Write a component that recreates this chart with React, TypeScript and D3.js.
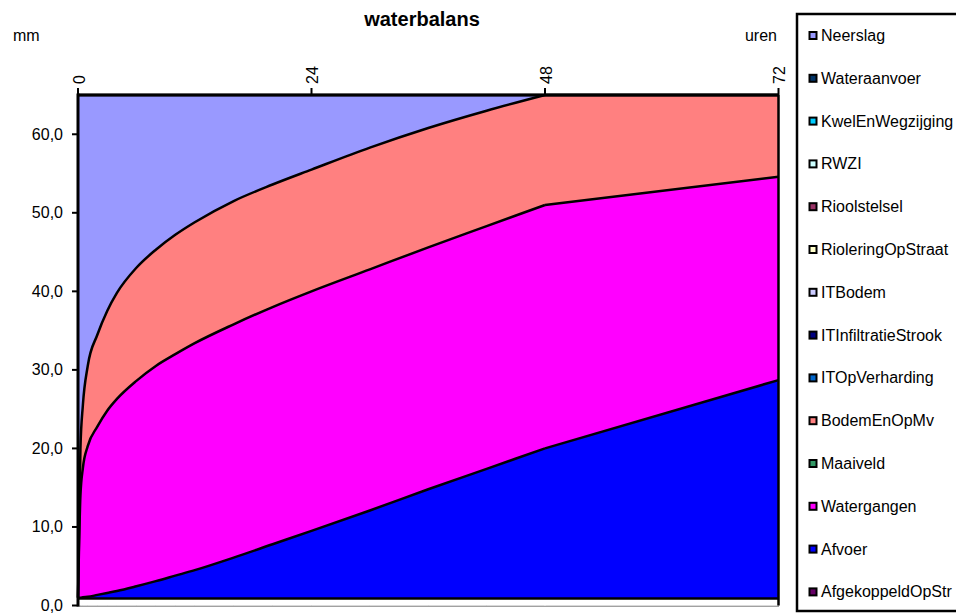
import React from 'react';
import * as d3 from 'd3';

// ---- data ----
const hours = [0, 0.25, 0.5, 1, 2, 3, 4, 6, 8, 10, 12, 16, 20, 24, 30, 36, 42, 48, 72];
const bottomLayer = [0.9, 0.9, 0.9, 0.9, 0.9, 0.9, 0.9, 0.9, 0.9, 0.9, 0.9, 0.9, 0.9, 0.9, 0.9, 0.9, 0.9, 0.9, 0.9];
const afvoer = [0.1, 0.1, 0.15, 0.2, 0.45, 0.7, 0.95, 1.55, 2.2, 2.9, 3.6, 5.2, 6.9, 8.6, 11.2, 13.9, 16.5, 19.1, 27.8];
const watergangen = [0, 13.0, 16.45, 19.2, 21.45, 23.2, 24.45, 26.15, 27.4, 28.2, 28.9, 29.7, 30.2, 30.5, 30.7, 30.8, 30.9, 31.0, 25.9];
const bodemEnOpMv = [0, 6.0, 8.0, 10.2, 11.7, 12.7, 13.5, 14.4, 14.8, 15.2, 15.4, 15.7, 15.6, 15.5, 15.5, 15.2, 14.7, 14.0, 10.4];
const neerslag = [64, 45, 39.5, 34.5, 30.5, 27.5, 25.2, 22.0, 19.7, 17.8, 16.2, 13.5, 11.4, 9.5, 6.7, 4.2, 2.0, 0, 0];

const xTicks = [0, 24, 48, 72];
const yTicks = [0, 10, 20, 30, 40, 50, 60];
const breakHour = 48; // the reference turns straight after this hour

const legendNames = [
  'Neerslag', 'Wateraanvoer', 'KwelEnWegzijging', 'RWZI', 'Rioolstelsel', 'RioleringOpStraat',
  'ITBodem', 'ITInfiltratieStrook', 'ITOpVerharding', 'BodemEnOpMv', 'Maaiveld', 'Watergangen',
  'Afvoer', 'AfgekoppeldOpStr',
];
const legendColors = [
  '#9999FF', '#003366', '#00CCFF', '#CCFFFF', '#993366', '#FFFFCC',
  '#CCCCFF', '#000080', '#0066CC', '#FF8080', '#339966', '#FF00FF',
  '#0000FF', '#660066',
];

const layerKeys = ['bottom', 'Afvoer', 'Watergangen', 'BodemEnOpMv', 'Neerslag'];
const layerColors = ['#FFFFFF', '#0000FF', '#FF00FF', '#FF8080', '#9999FF'];

const FONT = '"Liberation Sans", Arial, sans-serif';

export default function App() {
  const W = 956, H = 613;
  const x = d3.scaleLinear().domain([0, 72]).range([78, 778.5]);
  const y = d3.scaleLinear().domain([0, 65]).range([605.5, 95]);

  const table = hours.map((h, i) => ({
    h,
    bottom: bottomLayer[i],
    Afvoer: afvoer[i],
    Watergangen: watergangen[i],
    BodemEnOpMv: bodemEnOpMv[i],
    Neerslag: neerslag[i],
  }));
  const series = d3.stack<any>().keys(layerKeys)(table);
  const bi = hours.indexOf(breakHour);

  const areaSmooth = d3.area<any>().x((d) => x(d.data.h)).y0((d) => y(d[0])).y1((d) => y(d[1])).curve(d3.curveMonotoneX);
  const areaLin = d3.area<any>().x((d) => x(d.data.h)).y0((d) => y(d[0])).y1((d) => y(d[1])).curve(d3.curveLinear);
  const lineSmooth = d3.line<any>().x((d) => x(d.data.h)).y((d) => y(d[1])).curve(d3.curveMonotoneX);
  const lineLin = d3.line<any>().x((d) => x(d.data.h)).y((d) => y(d[1])).curve(d3.curveLinear);

  const fmt = (v: number) => v.toFixed(1).replace('.', ',');

  return (
    <svg
      width={W}
      height={H}
      style={{ position: 'absolute', left: 0, top: 0, background: '#fff' }}
      fontFamily={FONT}
    >
      <rect x={0} y={0} width={W} height={H} fill="#fff" />
      <text x={422} y={26} textAnchor="middle" fontSize={20} fontWeight="bold">waterbalans</text>
      <text x={13} y={41} fontSize={16}>mm</text>
      <text x={777} y={41} fontSize={16} textAnchor="end">uren</text>

      <line x1={78} x2={779} y1={y(0)} y2={y(0)} stroke="#444" strokeWidth={2} />

      {/* fills */}
      {series.map((s, i) => {
        const arr = Array.from(s as any);
        return (
          <g key={'f' + layerKeys[i]} fill={layerColors[i]} stroke={layerColors[i]} strokeWidth={0.6}>
            <path d={areaSmooth(arr.slice(0, bi + 1)) || ''} />
            <path d={areaLin(arr.slice(bi)) || ''} />
          </g>
        );
      })}
      {/* boundary lines */}
      {series.map((s, i) => {
        const arr = Array.from(s as any);
        return (
          <g key={'l' + layerKeys[i]} fill="none" stroke="#000" strokeWidth={2.5} strokeLinejoin="round">
            <path d={lineSmooth(arr.slice(0, bi + 1)) || ''} />
            <path d={lineLin(arr.slice(bi)) || ''} />
          </g>
        );
      })}
      {/* left and right edges of the stacked areas */}
      <line x1={x(72)} x2={x(72)} y1={y(65)} y2={y(0)} stroke="#000" strokeWidth={2.5} />

      {/* axes */}
      <line x1={78} x2={778.5} y1={y(65)} y2={y(65)} stroke="#000" strokeWidth={3} />
      <line x1={78} x2={78} y1={y(65) - 1.5} y2={y(0) + 1} stroke="#000" strokeWidth={3} />
      {xTicks.map((t) => (
        <g key={t}>
          <line x1={x(t)} x2={x(t)} y1={y(65) - 7} y2={y(65)} stroke="#000" strokeWidth={2} />
          <text
            transform={`translate(${x(t) + 1},${y(65) - 11}) rotate(-90)`}
            fontSize={16}
            dominantBaseline="central"
          >
            {t}
          </text>
        </g>
      ))}
      {yTicks.map((v) => (
        <g key={v}>
          <line x1={72} x2={78} y1={y(v)} y2={y(v)} stroke="#000" strokeWidth={2} />
          <text x={63} y={y(v)} fontSize={16} textAnchor="end" dominantBaseline="central">
            {fmt(v)}
          </text>
        </g>
      ))}

      {/* legend */}
      <rect x={797} y={14} width={200} height={597} fill="#fff" stroke="#000" strokeWidth={2.5} />
      {legendNames.map((n, i) => {
        const cy = 35.5 + i * 42.8;
        return (
          <g key={n}>
            <rect x={809.5} y={cy - 3.5} width={7} height={7} fill={legendColors[i]} stroke="#000" strokeWidth={2} />
            <text x={821} y={cy} fontSize={16} dominantBaseline="central">{n}</text>
          </g>
        );
      })}
    </svg>
  );
}
